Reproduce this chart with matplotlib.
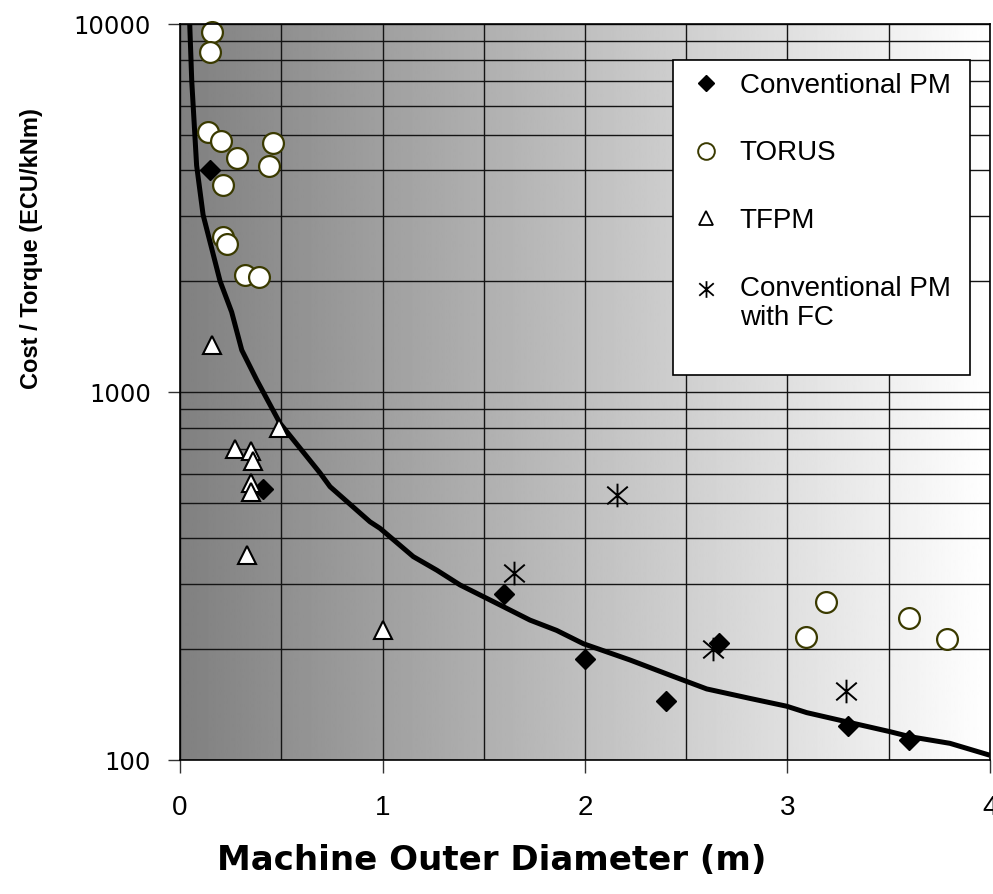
import numpy as np
import matplotlib
matplotlib.use("Agg")
import matplotlib.pyplot as plt
from matplotlib.path import Path
from matplotlib.patches import Rectangle
from matplotlib.lines import Line2D
from matplotlib.legend_handler import HandlerLine2D
from matplotlib.ticker import FixedLocator, NullFormatter, FuncFormatter

# ---- data -----------------------------------------------------------------
conv_pm_d = [0.15, 0.41, 1.60, 2.00, 2.40, 2.66, 3.30, 3.60]
conv_pm_c = [4000, 545, 282, 188, 145, 208, 124, 113]

torus_d = [0.16, 0.15, 0.14, 0.20, 0.28, 0.46, 0.44, 0.21, 0.21, 0.23, 0.32, 0.39,
           3.19, 3.09, 3.60, 3.79]
torus_c = [9500, 8400, 5080, 4800, 4330, 4740, 4120, 3650, 2640, 2520, 2080, 2050,
           268, 216, 243, 213]

tfpm_d = [0.16, 0.49, 0.27, 0.35, 0.36, 0.35, 0.35, 0.33, 1.00]
tfpm_c = [1340, 800, 700, 690, 650, 565, 535, 360, 225]

conv_fc_d = [1.65, 2.16, 2.63, 3.29]
conv_fc_c = [322, 525, 200, 154]

trend_d = [0.048, 0.058, 0.082, 0.114, 0.198, 0.255, 0.305, 0.379, 0.494, 0.691,
           0.741, 0.938, 0.988, 1.152, 1.268, 1.383, 1.597, 1.728, 1.860, 1.992,
           2.222, 2.420, 2.601, 2.815, 2.996, 3.095, 3.292, 3.506, 3.605, 3.802, 4.0]
trend_c = [10000, 7000, 4130, 3030, 2000, 1650, 1300, 1078, 822, 603,
           553, 444, 426, 357, 328, 299, 261, 240, 225, 207,
           187, 170, 156, 147, 140, 134.5, 127, 119.4, 115.7, 111, 103]

x_ticks = [0, 1, 2, 3, 4]
y_ticks = [100, 1000, 10000]

legend_labels = ["Conventional PM", "TORUS", "TFPM", "Conventional PM\nwith FC"]


class RaisedHandler(HandlerLine2D):
    """Line2D legend handler that lifts the marker to the first text line."""

    def __init__(self, dy, **kw):
        super().__init__(**kw)
        self.dy = dy

    def create_artists(self, legend, orig_handle, xdescent, ydescent,
                       width, height, fontsize, trans):
        arts = super().create_artists(legend, orig_handle, xdescent, ydescent,
                                      width, height, fontsize, trans)
        for a in arts:
            a.set_ydata(np.asarray(a.get_ydata()) + self.dy * fontsize)
        return arts


# ---- figure ---------------------------------------------------------------
W, H = 993, 894
fig = plt.figure(figsize=(W / 100, H / 100), dpi=100)
ax = fig.add_axes([180 / W, 1 - 760 / H, 810 / W, 736 / H])
ax.set_yscale("log")
ax.set_xlim(0, 4)
ax.set_ylim(100, 10000)

# grey-to-white horizontal gradient behind the plot
grad = np.linspace(0.502, 1.0, 512)[None, :]
ax.imshow(grad, extent=[0, 1, 0, 1], transform=ax.transAxes, cmap="gray",
          vmin=0, vmax=1, aspect="auto", zorder=0, interpolation="bilinear")

# grid: every 0.5 m horizontally, every log minor step vertically
ax.xaxis.set_major_locator(FixedLocator(x_ticks))
ax.xaxis.set_minor_locator(FixedLocator(np.arange(0, 4.01, 0.5)))
minor_y = [m * 10 ** k for k in (2, 3) for m in range(2, 10)]
ax.yaxis.set_major_locator(FixedLocator(y_ticks))
ax.yaxis.set_minor_locator(FixedLocator(minor_y))
ax.yaxis.set_minor_formatter(NullFormatter())
ax.yaxis.set_major_formatter(FuncFormatter(lambda v, p: f"{int(round(v))}"))
ax.grid(True, which="both", color="#141414", lw=1.0, zorder=1)
ax.set_axisbelow(True)

ax.tick_params(which="major", direction="out", length=9, width=1, color="#333333")
ax.tick_params(which="minor", length=0)
ax.tick_params(axis="x", labelsize=20, pad=16)
ax.tick_params(axis="y", labelsize=17.5, pad=12)
for lab in ax.get_xticklabels():
    lab.set_family(["Liberation Sans", "DejaVu Sans"])
for lab in ax.get_yticklabels():
    lab.set_family(["DejaVu Sans"])

for sp in ax.spines.values():
    sp.set_color("black")
    sp.set_linewidth(1.2)
    sp.set_zorder(5)

# trend curve
ax.plot(trend_d, trend_c, color="black", lw=3.6, zorder=3, solid_capstyle="butt",
        solid_joinstyle="round")

# asterisk-like marker: vertical bar crossed by an X
star_verts = [(0, -1), (0, 1), (-0.87, -0.75), (0.87, 0.75), (-0.87, 0.75), (0.87, -0.75)]
star_codes = [Path.MOVETO, Path.LINETO] * 3
star_marker = Path(star_verts, star_codes)

ax.plot(conv_pm_d, conv_pm_c, ls="none", marker="D", ms=10.5, mfc="black",
        mec="black", zorder=4, clip_on=False)
ax.plot(torus_d, torus_c, ls="none", marker="o", ms=15, mfc="white",
        mec="#3a3a00", mew=1.6, zorder=4, clip_on=False)
ax.plot(tfpm_d, tfpm_c, ls="none", marker="^", ms=12.5, mfc="white",
        mec="black", mew=1.5, zorder=4, clip_on=False)
ax.plot(conv_fc_d, conv_fc_c, ls="none", marker=star_marker, ms=17, mfc="none",
        mec="black", mew=1.4, zorder=4, clip_on=False)

# axis titles
ax.set_xlabel("Machine Outer Diameter (m)", fontsize=24.5, fontweight="bold",
              family=["DejaVu Sans"])
ax.xaxis.set_label_coords((492 - 180) / 810, (760 - 860) / 736)
ax.xaxis.label.set_va("center")
ax.set_ylabel("Cost / Torque (ECU/kNm)", fontsize=17, fontweight="bold",
              family=["Liberation Sans Narrow", "Liberation Sans", "DejaVu Sans"])
ax.yaxis.set_label_coords((31 - 180) / 810, (760 - 249) / 736)
ax.yaxis.label.set_va("center")

# legend panel
lx0, lx1 = (673 - 180) / 810, (970 - 180) / 810
ly0, ly1 = (760 - 375) / 736, (760 - 60) / 736
ax.add_patch(Rectangle((lx0, ly0), lx1 - lx0, ly1 - ly0, transform=ax.transAxes,
                       facecolor="white", edgecolor="black", lw=1.2, zorder=6))
handles = [
    Line2D([], [], ls="none", marker="D", ms=8, mfc="black", mec="black"),
    Line2D([], [], ls="none", marker="o", ms=12, mfc="white", mec="#3a3a00", mew=1.4),
    Line2D([], [], ls="none", marker="^", ms=10, mfc="white", mec="black", mew=1.3),
    Line2D([], [], ls="none", marker=star_marker, ms=12, mfc="none", mec="black", mew=1.3),
]
leg = ax.legend(handles, legend_labels, loc="upper left",
                bbox_to_anchor=(lx0, ly1 - 0.002), frameon=False,
                prop={"family": ["Liberation Sans", "DejaVu Sans"], "size": 20},
                borderpad=0.4, handlelength=1.6, handletextpad=0.4,
                labelspacing=1.5, borderaxespad=0,
                handler_map={handles[3]: RaisedHandler(0.52)})
leg.set_zorder(7)
leg.get_texts()[3].set_linespacing(1.15)

fig.savefig("out.png", dpi=100, facecolor="white")
